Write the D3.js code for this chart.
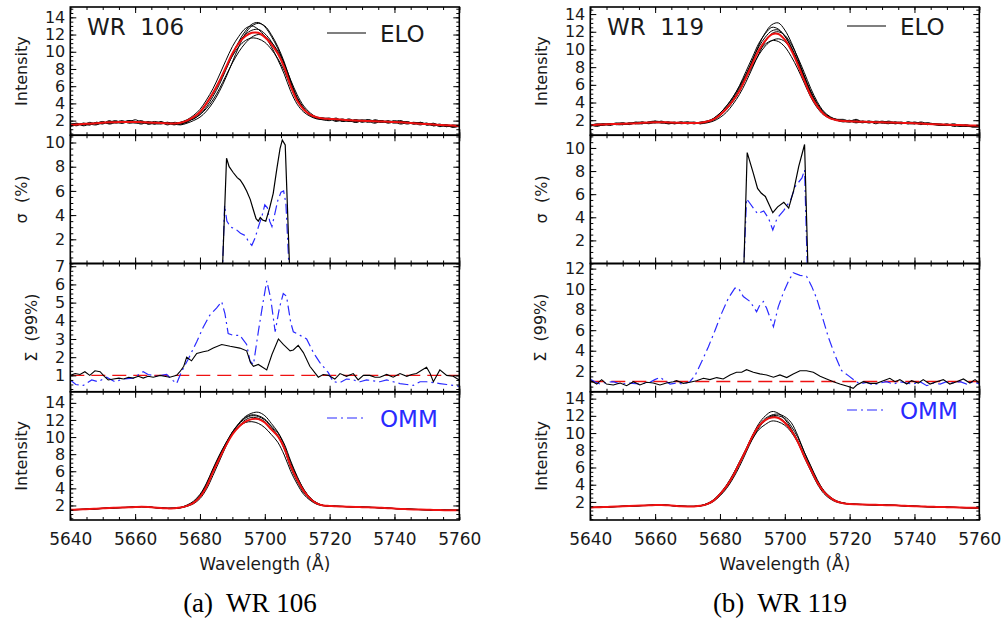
<!DOCTYPE html>
<html>
<head>
<meta charset="utf-8">
<script src="https://cdn.jsdelivr.net/npm/d3@7"></script>
<style>
  body { margin: 0; background: #fff; }
  text { font-family: "DejaVu Sans", sans-serif; fill: #1a1a1a; }
  .ytick text { font-size: 16px; }
  .xtick text { font-size: 17px; }
  .ttl { font-size: 16px; }
  .big { font-size: 23px; }
  .cap { font-family: "Liberation Serif", "Times New Roman", serif; font-size: 27px; fill: #000; }
</style>
</head>
<body>
<script>
// wavelength grid of the spectra (Angstrom)
const lamGrid = [5640,5642,5644,5646,5648,5650,5652,5654,5656,5658,5660,5662,5664,5666,5668,5670,5672,5674,
  5676,5678,5680,5682,5684,5686,5688,5690,5692,5694,5696,5698,5700,5702,5704,5706,5708,5710,5712,5714,5716,5718,5720,
  5722,5724,5726,5728,5730,5732,5734,5736,5738,5740,5742,5744,5746,5748,5750,5752,5754,5756,5758,5760];
const xTicks = [5640, 5660, 5680, 5700, 5720, 5740, 5760];

// WR 106 - ELO spectra (black) and mean (red)
const elo106Mean = [1.5,1.55,1.6,1.65,1.7,1.75,1.8,1.82,1.85,1.85,1.85,1.82,1.78,1.75,1.72,1.68,1.66,1.75,
  2.0,2.4,3.0,4.0,5.2,6.6,8.2,9.8,11.0,11.8,12.2,12.2,11.7,10.9,9.8,8.2,6.0,4.3,3.3,2.7,2.4,2.25,2.2,
  2.15,2.1,2.05,2.0,1.98,1.95,1.92,1.9,1.88,1.85,1.8,1.75,1.7,1.65,1.6,1.55,1.5,1.45,1.42,1.4];
const elo106Spec = [
  [1.4,1.6,1.5,1.7,1.6,1.8,1.7,1.9,1.8,2.0,1.9,1.7,1.8,1.6,1.9,1.6,1.7,1.6,
   1.9,2.2,2.7,3.6,4.8,6.2,7.9,9.6,11.2,12.4,13.2,13.4,12.9,11.8,10.4,8.6,6.4,4.6,3.4,2.7,2.3,2.2,2.3,
   2.0,2.2,1.9,2.1,2.0,1.8,2.1,1.9,1.8,2.0,1.7,1.9,1.6,1.8,1.5,1.7,1.4,1.5,1.3,1.4],
  [1.6,1.4,1.7,1.5,1.8,1.6,2.0,1.7,1.9,1.8,2.1,1.8,1.7,1.9,1.7,1.8,1.5,1.8,
   2.1,2.6,3.3,4.4,5.7,7.3,9.0,10.6,11.8,12.7,13.0,12.6,11.8,10.6,9.1,7.4,5.4,3.9,3.0,2.5,2.2,2.1,2.0,
   2.3,1.9,2.1,1.8,2.0,2.1,1.8,2.0,1.7,1.9,2.0,1.7,1.8,1.6,1.7,1.4,1.6,1.3,1.5,1.4],
  [1.5,1.7,1.4,1.6,1.7,1.9,1.6,1.8,2.0,1.7,1.8,2.0,1.6,1.8,1.8,1.5,1.8,1.7,
   1.8,2.3,2.9,3.9,5.1,6.5,8.1,9.8,11.1,12.0,12.5,12.6,12.1,11.2,9.9,8.3,6.2,4.5,3.4,2.7,2.4,2.3,2.1,
   2.2,2.0,2.2,1.9,2.1,1.9,2.0,1.8,2.0,1.8,1.9,1.8,1.6,1.8,1.6,1.6,1.3,1.5,1.4,1.3],
  [1.3,1.5,1.6,1.5,1.8,1.7,1.8,2.0,1.7,1.9,1.8,1.9,1.6,1.7,1.8,1.7,1.6,1.8,
   2.0,2.2,2.7,3.4,4.4,5.7,7.2,8.7,10.0,11.0,11.7,12.0,11.8,11.1,10.1,8.6,6.7,5.0,3.7,2.9,2.4,2.2,2.2,
   2.1,2.1,1.9,2.1,1.8,2.0,2.0,1.9,1.9,1.7,1.9,1.8,1.7,1.5,1.7,1.4,1.5,1.5,1.2,1.4],
  [1.7,1.6,1.5,1.8,1.6,1.7,1.9,1.8,1.7,2.0,1.8,1.6,1.9,1.7,1.6,1.8,1.7,1.6,
   1.9,2.4,3.0,4.0,5.2,6.6,8.1,9.5,10.6,11.3,11.6,11.5,11.1,10.3,9.2,7.8,5.9,4.3,3.3,2.6,2.3,2.3,2.2,
   1.9,2.1,2.0,1.8,2.0,1.9,1.7,2.0,1.8,1.8,1.6,1.8,1.7,1.7,1.5,1.6,1.5,1.3,1.4,1.5],
  [1.4,1.5,1.7,1.6,1.5,1.8,1.7,1.8,1.9,1.9,1.7,1.8,1.8,1.6,1.7,1.7,1.6,1.5,
   1.7,2.0,2.4,3.1,4.1,5.4,7.0,8.8,10.6,12.1,13.0,13.3,13.0,12.0,10.6,8.8,6.6,4.7,3.5,2.7,2.3,2.1,2.1,
   2.1,1.9,2.0,2.0,1.9,2.1,1.9,1.8,1.9,1.8,1.8,1.6,1.8,1.7,1.5,1.5,1.4,1.4,1.3,1.3]
];

// WR 106 - OMM spectra
const omm106Mean = [1.5,1.52,1.55,1.58,1.62,1.66,1.7,1.73,1.76,1.78,1.82,1.85,1.82,1.75,1.7,1.66,1.68,1.75,
  1.95,2.3,3.0,4.2,5.9,7.5,9.0,10.3,11.2,11.8,12.1,12.1,11.7,10.9,10.1,8.7,6.6,5.0,3.7,2.8,2.25,2.0,1.95,
  1.9,1.88,1.85,1.82,1.8,1.78,1.76,1.72,1.68,1.64,1.6,1.57,1.54,1.52,1.5,1.48,1.46,1.45,1.44,1.43];
const omm106Spec = [
  [1.48,1.5,1.53,1.57,1.6,1.65,1.68,1.72,1.75,1.77,1.8,1.88,1.84,1.76,1.7,1.65,1.66,1.72,
   1.9,2.2,2.8,3.9,5.5,7.2,8.9,10.4,11.6,12.4,12.8,12.9,12.5,11.6,10.6,9.2,7.2,5.4,3.9,2.9,2.3,2.0,1.95,
   1.9,1.88,1.86,1.83,1.8,1.78,1.76,1.73,1.69,1.65,1.61,1.57,1.54,1.52,1.5,1.48,1.46,1.44,1.43,1.42],
  [1.52,1.53,1.56,1.59,1.63,1.67,1.71,1.74,1.77,1.79,1.83,1.86,1.81,1.74,1.69,1.66,1.69,1.77,
   2.0,2.4,3.2,4.5,6.2,7.8,9.3,10.6,11.5,12.2,12.5,12.4,12.0,11.2,10.2,8.6,6.4,4.8,3.5,2.7,2.2,2.0,1.95,
   1.91,1.89,1.85,1.82,1.81,1.79,1.77,1.72,1.68,1.64,1.6,1.57,1.55,1.52,1.49,1.47,1.46,1.45,1.44,1.43],
  [1.5,1.51,1.54,1.58,1.61,1.66,1.7,1.73,1.77,1.78,1.81,1.84,1.83,1.75,1.71,1.67,1.67,1.74,
   1.95,2.3,3.0,4.3,6.0,7.6,9.1,10.4,11.3,12.0,12.3,12.2,11.8,11.0,10.1,8.7,6.7,5.1,3.8,2.8,2.3,2.0,1.95,
   1.9,1.88,1.85,1.82,1.8,1.77,1.75,1.72,1.68,1.64,1.6,1.57,1.54,1.52,1.5,1.48,1.46,1.45,1.44,1.43],
  [1.5,1.52,1.55,1.58,1.62,1.66,1.7,1.73,1.76,1.78,1.82,1.85,1.82,1.75,1.7,1.66,1.68,1.78,
   2.05,2.5,3.3,4.6,6.3,7.9,9.3,10.4,11.2,11.7,11.8,11.6,11.1,10.3,9.4,7.9,6.0,4.5,3.3,2.6,2.15,1.97,1.93,
   1.9,1.87,1.85,1.82,1.79,1.78,1.75,1.71,1.67,1.63,1.6,1.56,1.53,1.51,1.5,1.48,1.46,1.45,1.43,1.42],
  [1.49,1.51,1.55,1.57,1.61,1.64,1.69,1.72,1.75,1.77,1.83,1.87,1.83,1.76,1.71,1.66,1.67,1.74,
   1.97,2.35,3.1,4.4,6.1,7.7,9.2,10.6,11.6,12.3,12.6,12.5,12.1,11.3,10.5,9.0,7.0,5.3,3.9,2.9,2.3,2.02,1.96,
   1.91,1.89,1.86,1.83,1.8,1.79,1.76,1.72,1.68,1.64,1.61,1.58,1.55,1.52,1.5,1.48,1.47,1.45,1.44,1.42]
];

// WR 119 - ELO spectra
const elo119Mean = [1.45,1.5,1.52,1.55,1.58,1.6,1.62,1.65,1.7,1.75,1.78,1.78,1.75,1.72,1.7,1.68,1.68,1.72,
  1.85,2.1,2.6,3.3,4.2,5.3,6.8,8.4,9.9,11.0,11.7,11.75,11.1,9.9,8.3,6.5,4.8,3.6,2.7,2.2,2.0,1.9,1.88,
  1.85,1.83,1.8,1.78,1.76,1.74,1.72,1.7,1.68,1.65,1.62,1.58,1.55,1.52,1.5,1.47,1.45,1.42,1.4,1.38];
const elo119Spec = [
  [1.3,1.5,1.4,1.6,1.5,1.7,1.5,1.7,1.6,1.8,1.9,1.7,1.8,1.6,1.8,1.6,1.7,1.7,
   1.8,2.0,2.5,3.2,4.1,5.3,6.9,8.7,10.5,11.9,12.8,13.0,12.2,10.8,9.0,7.0,5.1,3.7,2.7,2.2,2.0,1.9,2.0,
   1.8,1.9,1.7,1.9,1.8,1.7,1.8,1.6,1.8,1.6,1.7,1.5,1.6,1.5,1.4,1.5,1.3,1.4,1.2,1.3],
  [1.5,1.4,1.6,1.5,1.6,1.5,1.7,1.6,1.8,1.7,1.7,1.9,1.6,1.7,1.7,1.8,1.6,1.8,
   1.9,2.2,2.8,3.6,4.6,5.9,7.5,9.1,10.7,11.8,12.5,12.3,11.5,10.2,8.5,6.7,4.9,3.6,2.8,2.3,2.1,1.9,1.8,
   2.0,1.8,1.8,1.7,1.9,1.7,1.7,1.8,1.6,1.7,1.5,1.7,1.5,1.4,1.6,1.3,1.4,1.5,1.3,1.2],
  [1.4,1.6,1.5,1.5,1.7,1.6,1.6,1.8,1.7,1.7,1.8,1.8,1.7,1.8,1.6,1.7,1.8,1.6,
   1.9,2.1,2.6,3.4,4.4,5.6,7.1,8.8,10.3,11.4,12.1,12.2,11.5,10.3,8.7,6.9,5.1,3.8,2.8,2.3,2.0,1.8,1.9,
   1.7,1.9,1.8,1.8,1.7,1.8,1.6,1.7,1.7,1.6,1.8,1.6,1.5,1.6,1.4,1.5,1.4,1.3,1.4,1.3],
  [1.5,1.5,1.6,1.4,1.6,1.7,1.6,1.7,1.8,1.6,1.8,1.7,1.8,1.7,1.7,1.6,1.7,1.7,
   1.8,2.1,2.6,3.3,4.2,5.3,6.7,8.1,9.4,10.4,11.0,11.2,10.9,10.0,8.6,7.0,5.3,3.9,2.9,2.3,2.0,1.9,1.8,
   1.9,1.7,1.9,1.6,1.8,1.8,1.6,1.7,1.6,1.8,1.6,1.6,1.6,1.5,1.5,1.4,1.5,1.3,1.3,1.4],
  [1.4,1.4,1.5,1.6,1.5,1.5,1.7,1.6,1.6,1.8,1.7,1.7,1.6,1.7,1.8,1.7,1.6,1.7,
   1.8,2.2,2.8,3.6,4.6,5.8,7.2,8.6,9.8,10.6,11.0,10.9,10.3,9.2,7.8,6.2,4.6,3.4,2.6,2.2,2.0,1.9,1.9,
   1.8,1.8,1.7,1.8,1.7,1.6,1.8,1.7,1.6,1.6,1.7,1.5,1.6,1.4,1.5,1.5,1.3,1.4,1.3,1.4],
  [1.5,1.3,1.5,1.6,1.6,1.5,1.6,1.7,1.7,1.7,1.9,1.8,1.7,1.6,1.7,1.8,1.7,1.6,
   1.7,1.9,2.3,2.9,3.8,4.9,6.3,7.9,9.5,10.9,11.8,12.0,11.6,10.6,9.1,7.4,5.6,4.1,3.0,2.4,2.1,2.1,1.9,
   2.1,1.8,1.9,1.8,1.7,1.9,1.7,1.6,1.8,1.7,1.6,1.7,1.6,1.5,1.4,1.6,1.4,1.3,1.3,1.3]
];

// WR 119 - OMM spectra
const omm119Mean = [1.35,1.38,1.4,1.43,1.46,1.49,1.52,1.55,1.58,1.6,1.63,1.65,1.6,1.55,1.5,1.48,1.48,1.55,
  1.75,2.15,2.9,3.8,5.0,6.5,8.0,9.6,10.8,11.5,11.8,11.75,11.2,10.3,9.0,7.3,5.8,4.3,3.2,2.5,2.05,1.85,1.75,
  1.72,1.7,1.68,1.66,1.64,1.62,1.6,1.57,1.53,1.5,1.47,1.45,1.43,1.41,1.39,1.37,1.35,1.33,1.32,1.3];
const omm119Spec = [
  [1.33,1.36,1.39,1.42,1.45,1.48,1.51,1.54,1.57,1.59,1.62,1.66,1.61,1.55,1.5,1.47,1.47,1.53,
   1.72,2.1,2.8,3.7,4.9,6.4,8.0,9.7,11.1,12.0,12.5,12.3,11.6,10.5,9.0,7.2,5.6,4.1,3.0,2.35,1.98,1.82,1.74,
   1.71,1.69,1.67,1.65,1.63,1.61,1.59,1.56,1.52,1.49,1.46,1.44,1.42,1.4,1.38,1.36,1.34,1.32,1.31,1.29],
  [1.36,1.38,1.41,1.44,1.47,1.5,1.53,1.56,1.59,1.61,1.64,1.66,1.6,1.55,1.5,1.49,1.49,1.57,
   1.8,2.2,2.95,3.9,5.1,6.6,8.1,9.7,10.9,11.7,12.1,12.2,11.9,11.2,9.7,7.8,6.1,4.5,3.3,2.55,2.1,1.88,1.77,
   1.73,1.71,1.69,1.67,1.65,1.63,1.61,1.58,1.54,1.51,1.48,1.45,1.43,1.41,1.39,1.37,1.35,1.33,1.32,1.3],
  [1.35,1.37,1.4,1.43,1.46,1.49,1.52,1.55,1.58,1.6,1.63,1.64,1.6,1.56,1.51,1.48,1.48,1.56,
   1.78,2.2,2.9,3.85,5.1,6.6,8.1,9.6,10.8,11.5,11.9,11.8,11.3,10.4,9.1,7.4,5.9,4.4,3.25,2.5,2.06,1.86,1.76,
   1.72,1.7,1.68,1.66,1.64,1.62,1.6,1.57,1.53,1.5,1.47,1.45,1.43,1.41,1.39,1.37,1.35,1.33,1.32,1.3],
  [1.34,1.38,1.4,1.43,1.46,1.49,1.52,1.55,1.58,1.6,1.62,1.64,1.61,1.55,1.5,1.48,1.49,1.56,
   1.8,2.25,3.0,3.95,5.2,6.6,8.0,9.3,10.4,11.0,11.4,11.3,10.9,10.1,8.9,7.3,5.8,4.4,3.3,2.55,2.1,1.88,1.77,
   1.73,1.7,1.68,1.66,1.64,1.62,1.6,1.57,1.53,1.5,1.47,1.45,1.43,1.41,1.39,1.37,1.35,1.33,1.31,1.3],
  [1.35,1.37,1.4,1.44,1.46,1.49,1.52,1.54,1.57,1.6,1.63,1.65,1.6,1.55,1.5,1.47,1.47,1.54,
   1.7,2.05,2.7,3.55,4.7,6.1,7.7,9.3,10.6,11.5,12.0,12.0,11.7,10.8,9.5,7.8,6.2,4.6,3.35,2.6,2.1,1.88,1.77,
   1.72,1.7,1.68,1.66,1.64,1.62,1.6,1.57,1.53,1.5,1.47,1.45,1.43,1.41,1.39,1.37,1.35,1.33,1.32,1.3]
];

// sigma (%) : [wavelength, value]
const sigma106Elo = [[5640,0],[5687.0,0],[5688.2,8.7],[5689,8.0],[5690.3,7.5],[5691.5,7.1],[5692.4,6.9],[5693.4,6.5],
  [5694.4,6.0],[5695.5,5.3],[5696.5,4.4],[5697.3,3.7],[5698,3.5],[5698.6,3.8],[5699.3,3.6],[5700.3,3.5],[5701.5,4.6],
  [5702.6,5.8],[5703.7,7.8],[5704.7,9.5],[5705.4,10.2],[5706.3,9.8],[5707.6,0],[5760,0]];
const sigma106Omm = [[5640,0],[5687.0,0],[5687.6,4.8],[5688.3,3.5],[5689.5,3.0],[5691,2.85],[5692.5,2.5],[5694,2.3],
  [5695,1.8],[5696,1.5],[5697,2.1],[5698,3.0],[5699.2,4.0],[5700,4.85],[5700.8,4.6],[5701.5,3.5],[5702.2,3.05],
  [5703,4.0],[5704,5.2],[5705,5.9],[5705.8,6.0],[5706.5,5.0],[5707.4,0],[5760,0]];
const sigma119Elo = [[5640,0],[5687.4,0],[5688.4,9.6],[5690.3,7.8],[5691.6,6.5],[5692.7,6.1],[5694,5.8],[5695,5.2],
  [5696.3,4.4],[5697.8,4.9],[5699.7,5.3],[5701.2,4.8],[5702.8,6.4],[5704.3,8.4],[5706.1,10.3],[5707.1,0],[5760,0]];
const sigma119Omm = [[5640,0],[5687.4,0],[5688.2,5.6],[5689,5.3],[5690.3,4.8],[5691.6,4.3],[5693.5,4.55],[5695,3.9],
  [5696.3,2.9],[5697.6,3.9],[5699.7,4.6],[5701.8,5.5],[5703.3,6.7],[5705.3,7.4],[5706.1,8.1],[5706.9,0],[5760,0]];

// Sigma (99%) : [wavelength, value]
const sum106Elo = [[5640,1.0],[5641.5,1.1],[5643,1.05],[5644.5,1.2],[5646,1.0],[5647.6,1.25],[5649.2,1.2],[5650.5,0.95],
  [5651.7,0.75],[5653.3,0.8],[5655,0.85],[5656.4,0.8],[5658,0.9],[5659.4,0.85],[5661,0.95],[5662.5,0.85],[5664,0.95],
  [5665.6,0.9],[5667.7,1.0],[5669,0.95],[5670.7,0.9],[5672.8,1.0],[5673.8,1.2],[5675,1.5],[5675.9,2.0],[5677.4,1.8],
  [5679,2.2],[5681,2.3],[5682.5,2.35],[5684.1,2.5],[5686.7,2.7],[5689.3,2.6],[5692.3,2.5],[5694.4,2.35],[5695.6,1.7],
  [5696.5,1.5],[5698,1.6],[5700.6,1.3],[5702.2,2.15],[5704.2,3.0],[5705.7,2.7],[5707.8,2.35],[5708.8,2.4],[5710.3,2.65],
  [5711.9,2.25],[5713.9,1.5],[5716.5,0.9],[5718,1.05],[5719.6,1.0],[5721.6,0.8],[5723.2,1.1],[5725.2,0.95],[5727.3,1.1],
  [5728.8,0.75],[5730.4,1.0],[5732.4,1.0],[5734,0.9],[5735.5,0.9],[5737.6,1.05],[5739.6,0.9],[5741.7,1.1],[5743.8,0.95],
  [5745.3,1.05],[5746.8,1.1],[5748.5,1.3],[5749.9,1.45],[5751,1.1],[5752,0.65],[5754,1.3],[5756.1,1.0],[5758.1,0.95],[5760,0.75]];
const sum106Omm = [[5640,0.75],[5641.7,0.5],[5644,0.45],[5646.6,0.75],[5648.6,0.65],[5651.2,0.9],[5653.7,0.65],[5656.4,0.8],
  [5659.4,0.85],[5662.5,1.2],[5664,1.05],[5666.6,0.95],[5669.7,1.05],[5671.8,0.7],[5672.8,0.55],[5674.3,1.2],[5676.4,1.9],
  [5679,2.85],[5681,3.65],[5683,4.3],[5685.1,4.7],[5686.7,5.05],[5687.7,4.4],[5688.7,3.3],[5690.3,3.2],[5692.3,3.2],
  [5694.4,2.7],[5695.4,1.8],[5696.5,1.6],[5698,3.4],[5699.5,5.05],[5700.6,6.2],[5701.8,5.25],[5703.2,3.4],[5704.5,4.7],
  [5705.7,5.5],[5706.7,5.35],[5708,3.9],[5708.8,3.4],[5710.9,3.2],[5712.9,3.0],[5715,2.25],[5717,1.7],[5719.6,1.15],
  [5721.1,0.65],[5723.1,0.6],[5725.2,0.8],[5727.3,0.75],[5729.4,0.65],[5731.4,0.75],[5733.5,0.7],[5735.5,0.65],
  [5737.6,0.75],[5739.6,0.65],[5741.7,0.55],[5743.8,0.5],[5745.8,0.45],[5747.9,0.65],[5749.9,0.65],[5752,0.6],
  [5754,0.55],[5756.1,0.5],[5758.1,0.45],[5760,0.4]];
const sum119Elo = [[5640.2,1.08],[5642,0.75],[5643.5,1.18],[5645,0.75],[5647.1,0.66],[5649.2,0.85],[5651.2,0.59],
  [5653.3,0.98],[5655.3,0.66],[5657.4,0.92],[5659.4,0.85],[5661.5,0.66],[5663.5,0.85],[5665.6,0.98],[5666.6,1.08],
  [5668.7,0.82],[5670.7,0.92],[5672.8,1.08],[5674.9,1.31],[5676.9,1.18],[5679,1.38],[5681,1.25],[5683.1,1.64],
  [5685.1,1.9],[5686.7,1.9],[5688.2,2.15],[5690.3,1.9],[5692.3,1.74],[5694.4,1.64],[5696.5,1.41],[5698.5,1.64],
  [5700.6,1.38],[5702.6,1.74],[5704.7,2.05],[5706.7,2.05],[5708.8,1.9],[5710.9,1.51],[5712.9,1.25],[5715,0.98],
  [5717,0.75],[5719.6,0.52],[5721.1,0.33],[5722.2,0.66],[5724.2,0.98],[5726.3,0.82],[5728.3,0.82],[5730.4,1.08],
  [5732.4,1.31],[5734,0.98],[5735.5,1.18],[5737.6,0.75],[5739.1,1.08],[5741.2,0.85],[5742.7,1.18],[5744.8,0.75],
  [5746.8,0.98],[5748.9,1.18],[5750.9,0.75],[5753,0.98],[5755.1,1.25],[5757.1,0.85],[5758.7,1.18],[5760,0.85]];
const sum119Omm = [[5640.2,1.18],[5641.4,0.98],[5643,0.75],[5645,0.92],[5647.1,0.98],[5649.2,0.75],[5652.2,0.85],
  [5655.3,0.75],[5658.4,0.92],[5659.9,1.18],[5661.5,1.41],[5662.5,1.18],[5664.6,0.75],[5666.6,0.85],[5668.7,0.75],
  [5670.7,0.98],[5672.3,1.57],[5674.3,2.89],[5676.4,4.36],[5678.5,6.0],[5680.5,7.64],[5682.6,9.12],[5684.6,10.1],
  [5685.7,10.1],[5687.2,9.28],[5689.3,8.79],[5691.3,7.8],[5692.3,8.46],[5693.4,8.79],[5694.4,8.13],[5696.5,6.33],
  [5698,8.3],[5699.5,9.6],[5701.1,10.76],[5702.6,11.6],[5704.7,11.35],[5706.7,11.25],[5708.3,10.27],[5709.8,9.12],
  [5711.4,7.48],[5713.4,5.35],[5715.5,3.54],[5717.5,2.07],[5719.6,1.57],[5721.6,1.08],[5723.2,0.75],[5725.2,0.92],
  [5727.3,0.66],[5729.4,0.85],[5731.4,0.98],[5733.5,0.75],[5735.5,0.98],[5737.6,0.85],[5739.6,0.75],[5741.7,0.98],
  [5743.8,0.59],[5745.8,0.85],[5747.9,0.75],[5749.9,0.98],[5752,0.85],[5754.1,0.98],[5756.1,0.75],[5758.1,0.98],[5760,0.75]];
const sumLevel = 1;

const RED = "#ee1111", BLUE = "#2a2aff";
const DASHDOT = "10,4,2,4", DASH = "14,7";

const svg = d3.select("body").append("svg").attr("width", 1005).attr("height", 625);
const plotL = 70.3, plotW = 389, topY = 7, panelH = 128.25;
const x = d3.scaleLinear().domain([5640, 5760]).range([0, plotW]);
const xMinor = d3.range(5640, 5761, 5);
let clipN = 0;

function panel(chart, idx, domain, major, minorStep, title, titleX, showX) {
  const g = chart.append("g").attr("transform", `translate(${plotL},${topY + idx * panelH})`);
  const y = d3.scaleLinear().domain(domain).range([panelH, 0]);
  const majorIn = major.filter(v => v > domain[0] && v <= domain[1]);
  const minor = d3.range(Math.ceil(domain[0] / minorStep) * minorStep, domain[1], minorStep);
  const id = "clip" + (clipN++);
  g.append("clipPath").attr("id", id).append("rect").attr("width", plotW).attr("height", panelH);
  const plot = g.append("g").attr("clip-path", `url(#${id})`);

  const axes = g.append("g").attr("color", "#000");
  const clean = s => { s.select(".domain").remove(); s.attr("font-size", null).attr("font-family", null); };
  axes.append("g").attr("transform", `translate(0,${panelH})`)
    .call(d3.axisBottom(x).tickValues(xMinor).tickSize(-3).tickFormat("")).call(clean);
  axes.append("g").attr("class", "xtick").attr("transform", `translate(0,${panelH})`)
    .call(d3.axisBottom(x).tickValues(xTicks).tickSize(-6).tickPadding(13).tickFormat(showX ? d3.format("d") : ""))
    .call(clean);
  axes.append("g").call(d3.axisTop(x).tickValues(xMinor).tickSize(-3).tickFormat("")).call(clean);
  axes.append("g").call(d3.axisTop(x).tickValues(xTicks).tickSize(-6).tickFormat("")).call(clean);
  axes.append("g").call(d3.axisLeft(y).tickValues(minor).tickSize(-3).tickFormat("")).call(clean);
  axes.append("g").attr("class", "ytick")
    .call(d3.axisLeft(y).tickValues(majorIn).tickSize(-6).tickPadding(5).tickFormat(d3.format("d"))).call(clean);
  axes.append("g").attr("transform", `translate(${plotW},0)`)
    .call(d3.axisRight(y).tickValues(minor).tickSize(-3).tickFormat("")).call(clean);
  axes.append("g").attr("transform", `translate(${plotW},0)`)
    .call(d3.axisRight(y).tickValues(majorIn).tickSize(-6).tickFormat("")).call(clean);
  axes.selectAll("line").attr("stroke-width", 1);
  g.append("rect").attr("width", plotW).attr("height", panelH)
    .attr("fill", "none").attr("stroke", "#000").attr("stroke-width", 1.6);

  g.append("text").attr("class", "ttl").attr("xml:space", "preserve")
    .attr("transform", `translate(${titleX - plotL},${panelH / 2}) rotate(-90)`)
    .attr("text-anchor", "middle").text(title);
  return { g, y, plot };
}

function drawSpectra(p, specs, mean) {
  const line = d3.line().x((d, i) => x(lamGrid[i])).y(d => p.y(d)).curve(d3.curveCatmullRom.alpha(0.5));
  p.plot.selectAll(".spec").data(specs).enter().append("path")
    .attr("d", line).attr("fill", "none").attr("stroke", "#000").attr("stroke-width", 1);
  p.plot.append("path").attr("d", line(mean)).attr("fill", "none").attr("stroke", RED).attr("stroke-width", 2);
}

function drawPairs(p, data, color, dash, width) {
  const line = d3.line().x(d => x(d[0])).y(d => p.y(d[1]));
  p.plot.append("path").attr("d", line(data)).attr("fill", "none")
    .attr("stroke", color).attr("stroke-width", width).attr("stroke-dasharray", dash);
}

const charts = [
  { off: 0, name: "WR  106", cap: "(a)  WR 106", capX: 250, eloY: 42, ommY: 427,
    elo: [elo106Mean, elo106Spec], omm: [omm106Mean, omm106Spec],
    sig: [sigma106Elo, sigma106Omm], sum: [sum106Elo, sum106Omm],
    dom: [[0.3, 15.2], [0, 10.6], [0.1, 7.15], [0.3, 15.3]],
    sumMajor: [1, 2, 3, 4, 5, 6, 7], sumMinor: 0.25, sumTitleX: 37 },
  { off: 520, name: "WR  119", cap: "(b)  WR 119", capX: 260, eloY: 35, ommY: 419,
    elo: [elo119Mean, elo119Spec], omm: [omm119Mean, omm119Spec],
    sig: [sigma119Elo, sigma119Omm], sum: [sum119Elo, sum119Omm],
    dom: [[0.3, 14.8], [0, 11.1], [0, 12.5], [-0.1, 14.8]],
    sumMajor: [2, 4, 6, 8, 10, 12], sumMinor: 0.5, sumTitleX: 26 }
];
const intMajor = [2, 4, 6, 8, 10, 12, 14], sigMajor = [2, 4, 6, 8, 10];

charts.forEach(c => {
  const chart = svg.append("g").attr("transform", `translate(${c.off},0)`);

  const p1 = panel(chart, 0, c.dom[0], intMajor, 0.5, "Intensity", 27, false);
  drawSpectra(p1, c.elo[1], c.elo[0]);

  const p2 = panel(chart, 1, c.dom[1], sigMajor, 0.5, "\u03C3  (%)", 27, false);
  drawPairs(p2, c.sig[1], BLUE, DASHDOT, 1.2);
  drawPairs(p2, c.sig[0], "#000", null, 1.2);

  const p3 = panel(chart, 2, c.dom[2], c.sumMajor, c.sumMinor, "\u03A3  (99%)", c.sumTitleX, false);
  p3.plot.append("line").attr("x1", 0).attr("x2", plotW)
    .attr("y1", p3.y(sumLevel)).attr("y2", p3.y(sumLevel))
    .attr("stroke", RED).attr("stroke-width", 1.3).attr("stroke-dasharray", DASH);
  drawPairs(p3, c.sum[1], BLUE, DASHDOT, 1.2);
  drawPairs(p3, c.sum[0], "#000", null, 1.1);

  const p4 = panel(chart, 3, c.dom[3], intMajor, 0.5, "Intensity", 27, true);
  drawSpectra(p4, c.omm[1], c.omm[0]);

  // labels and legends
  chart.append("text").attr("class", "big").attr("xml:space", "preserve")
    .attr("x", 87).attr("y", 35).text(c.name);
  chart.append("line").attr("x1", 327).attr("x2", 366).attr("y1", c.eloY - 9).attr("y2", c.eloY - 9)
    .attr("stroke", "#000").attr("stroke-width", 1.2);
  chart.append("text").attr("class", "big").attr("x", 380).attr("y", c.eloY).text("ELO");
  chart.append("line").attr("x1", 327).attr("x2", 366).attr("y1", c.ommY - 9).attr("y2", c.ommY - 9)
    .attr("stroke", BLUE).attr("stroke-width", 1.2).attr("stroke-dasharray", DASHDOT);
  chart.append("text").attr("class", "big").attr("x", 380).attr("y", c.ommY)
    .style("fill", BLUE).text("OMM");

  chart.append("text").attr("class", "ttl").style("font-size", "17px")
    .attr("x", plotL + plotW / 2).attr("y", 570).attr("text-anchor", "middle").text("Wavelength (\u00C5)");
  chart.append("text").attr("class", "cap").attr("xml:space", "preserve")
    .attr("x", c.capX).attr("y", 612).attr("text-anchor", "middle").text(c.cap);
});
</script>
</body>
</html>
